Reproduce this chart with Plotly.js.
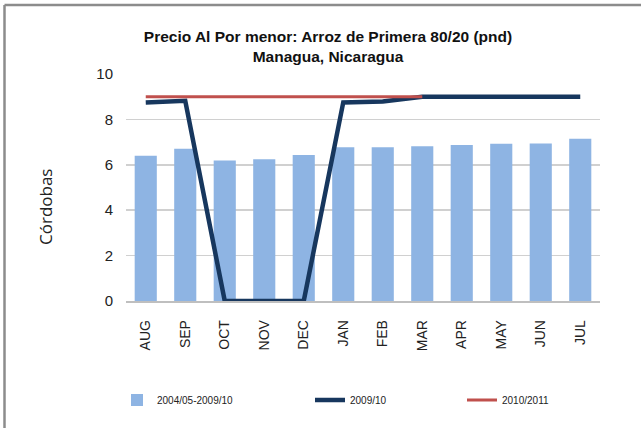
<!DOCTYPE html>
<html><head><meta charset="utf-8">
<script src="https://cdn.plot.ly/plotly-3.0.1.min.js"></script>
<style>html,body{margin:0;padding:0;background:#fff}#chart{width:641px;height:428px}</style>
</head><body><div id="chart"></div>
<script>
const months = ["AUG","SEP","OCT","NOV","DEC","JAN","FEB","MAR","APR","MAY","JUN","JUL"];
const avg0510 = [6.40,6.71,6.19,6.25,6.43,6.77,6.77,6.82,6.87,6.93,6.94,7.15];
const s0910 = [8.75,8.82,0,0,0,8.75,8.79,9.0,9.0,9.0,9.0,9.0];
const s1011 = [9.0,9.0,9.0,9.0,9.0,9.0,9.0,9.0];
const s1011Months = months.slice(0, s1011.length);
const yTicks = [0,2,4,6,8,10];

const FONT = '"Liberation Sans Narrow", "Arial Narrow", "Liberation Sans", sans-serif';

const traces = [
  {type:'bar', x:months, y:avg0510, name:'2004/05-2009/10', marker:{color:'#8EB4E3'}, legend:'legend'},
  {type:'scatter', mode:'lines', x:months, y:s0910, name:'2009/10', line:{color:'#17375E', width:4.5}, cliponaxis:false, legend:'legend2'},
  {type:'scatter', mode:'lines', x:s1011Months, y:s1011, name:'2010/2011', line:{color:'#C0504D', width:3}, cliponaxis:false, legend:'legend3'}
];

const L = 126, R = 600, T = 74, B = 301, W = 641, H = 428;
const px = v => (v - L) / (R - L);
const py = v => (B - v) / (B - T);

const legBase = {orientation:'h', yanchor:'middle', xanchor:'left', y: py(400), font:{family:FONT, size:10, color:'#222'}, bgcolor:'rgba(0,0,0,0)', itemclick:false};

const layout = {
  width:W, height:H,
  margin:{l:L, r:W-R, t:T, b:H-B, pad:0},
  paper_bgcolor:'#fff', plot_bgcolor:'#fff',
  bargap:0.44,
  title:{text:'Precio Al Por menor: Arroz de Primera 80/20 (pnd)<br>Managua, Nicaragua', x:(328)/W, xanchor:'center', y:1-42/H, yanchor:'middle', font:{family:FONT, size:15.5, color:'#111', weight:'bold'}},
  xaxis:{type:'category', categoryarray:months, range:[-0.5,11.5], tickangle:-90, tickfont:{family:FONT, size:14, color:'#222'}, showgrid:false, showline:true, linecolor:'#bfbfbf', linewidth:1.5, ticks:'', ticklabelstandoff:12, fixedrange:true},
  yaxis:{range:[0,10], tickvals:yTicks, ticktext:yTicks.map(String), tickfont:{family:FONT, size:15, color:'#222'}, showgrid:true, gridcolor:'#d0d0d0', gridwidth:1.5, zeroline:false, showline:false, ticks:'', ticklabelstandoff:12, fixedrange:true},
  legend: Object.assign({}, legBase, {x: px(117)}),
  legend2: Object.assign({}, legBase, {x: px(310)}),
  legend3: Object.assign({}, legBase, {x: px(462)}),
  annotations:[{text:'Córdobas', textangle:-90, xref:'paper', yref:'paper', x:px(45), y:py(207), xanchor:'center', yanchor:'middle', showarrow:false, font:{family:'"Open Sans", "Liberation Sans", sans-serif', size:17, color:'#222'}}],
  shapes:[
    {type:'line', xref:'paper', yref:'paper', x0:px(4.5), x1:px(641), y0:py(5), y1:py(5), line:{color:'#8c8c8c', width:2.5}},
    {type:'line', xref:'paper', yref:'paper', x0:px(4.5), x1:px(4.5), y0:py(5), y1:py(428), line:{color:'#8c8c8c', width:2.5}}
  ],
  showlegend:true
};

Plotly.newPlot('chart', traces, layout, {staticPlot:true, displayModeBar:false});
</script></body></html>
